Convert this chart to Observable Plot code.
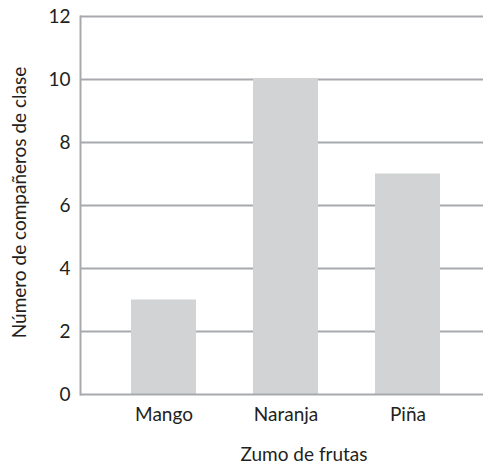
<!DOCTYPE html>
<html>
<head>
<meta charset="utf-8">
<script src="https://cdn.jsdelivr.net/npm/d3@7"></script>
<script src="https://cdn.jsdelivr.net/npm/@observablehq/plot@0.6"></script>
<style>
  html, body { margin: 0; padding: 0; background: #fff; }
</style>
</head>
<body>
<div id="chart"></div>
<script>
const fruits = ["Mango", "Naranja", "Piña"];
const counts = [3, 10, 7];
const yTicks = [0, 2, 4, 6, 8, 10, 12];
const xTitle = "Zumo de frutas";
const yTitle = "Número de compañeros de clase";

const data = fruits.map((f, i) => ({fruit: f, count: counts[i]}));

const gridColor = "#a7a9ac";
const barColor = "#d1d3d4";
const textColor = "#231f20";

const chart = Plot.plot({
  width: 483,
  height: 467,
  marginLeft: 80,
  marginRight: 0,
  marginTop: 16,
  marginBottom: 73,
  style: {fontFamily: "Lato", fontSize: "19px", color: textColor, background: "white"},
  x: {domain: fruits, range: [101.25, 468.75], paddingInner: 0.47, paddingOuter: 0.235, label: null},
  y: {domain: [0, 12], label: null},
  marks: [
    Plot.ruleY(yTicks.filter(d => d > 0), {stroke: gridColor, strokeWidth: 2}),
    Plot.barY(data, {x: "fruit", y: "count", fill: barColor}),
    Plot.ruleY([0], {stroke: gridColor, strokeWidth: 2}),
    Plot.frame({anchor: "left", stroke: gridColor, strokeWidth: 2}),
    Plot.axisY(yTicks, {tickSize: 0, tickPadding: 10, label: null, fill: textColor}),
    Plot.axisX({tickSize: 0, tickPadding: 13, label: null, fill: textColor}),
    Plot.text([xTitle], {frameAnchor: "bottom", lineAnchor: "middle", dx: 22, dy: 60, fill: textColor}),
    Plot.text([yTitle], {frameAnchor: "left", textAnchor: "middle", lineAnchor: "middle", rotate: -90, dx: -61, dy: -3, fill: textColor})
  ]
});
document.getElementById("chart").appendChild(chart);
</script>
</body>
</html>
